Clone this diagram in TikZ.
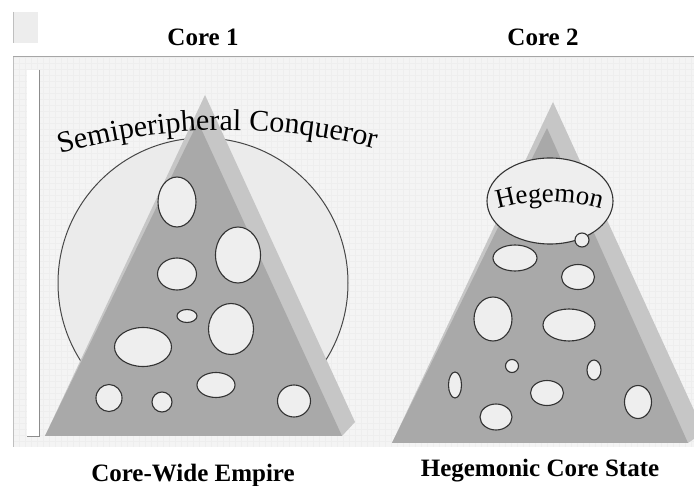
\documentclass[tikz,border=0pt]{standalone}
\usepackage{fontspec}
\setmainfont{Liberation Serif}
\usetikzlibrary{decorations.text}
\definecolor{panelbg}{HTML}{F4F4F4}
\definecolor{gridc}{HTML}{EEEEEE}
\definecolor{frontc}{HTML}{A9A9A9}
\definecolor{sidec}{HTML}{C6C6C6}
\definecolor{circc}{HTML}{EBEBEB}
\definecolor{holec}{HTML}{EEEEEE}
\definecolor{edgec}{HTML}{333333}
\definecolor{boxc}{HTML}{EDEDED}
\begin{document}
\begin{tikzpicture}[x=1pt,y=-1pt,
  hole/.style={draw=edgec, line width=1.1pt, fill=holec},
  labelbold/.style={font=\fontsize{25}{30}\selectfont\bfseries, inner sep=0pt, anchor=base},
  faintline/.style={draw=black!25, line width=0.8pt}]
\useasboundingbox (0,0) rectangle (694,486);
\fill[white] (0,0) rectangle (694,486);
% small box top-left
\fill[boxc] (13,12) rectangle (38,43);
\draw[faintline] (13,12) -- (13,43);
% panel
\fill[panelbg] (13,57) rectangle (694,447);
\begin{scope}
\clip (13,57) rectangle (694,447);
\foreach \i in {0,...,114} \draw[gridc, line width=0.3pt] ({13+6*\i},57) -- ({13+6*\i},447);
\foreach \j in {0,...,65} \draw[gridc, line width=0.3pt] (13,{57+6*\j}) -- (694,{57+6*\j});
\end{scope}
\draw[draw=black!35, line width=1pt] (13,57) -- (694,57);
\draw[faintline] (13,57) -- (13,447);
\fill[white] (27,70) rectangle (39,436);
\draw[draw=black!45, line width=0.9pt] (39,70) -- (39,436) -- (27,436);
% Core 1: circle and pyramid
\draw[fill=circc, draw=edgec!90, line width=1pt] (203,283) circle [radius=145];
\fill[sidec] (205,95) -- (355,422) -- (342,436) -- (45,436) -- cycle;
\fill[frontc] (198,122) -- (342,436) -- (45,436) -- cycle;
\foreach \cx/\cy/\rx/\ry in {177/202/19/25, 238/255/22.5/28, 177/274/19.5/16, 187/316/10/6.5,
  231/329/22.5/25.5, 143/347/28.5/19.5, 109/398/13/13.5, 162/402/10/10, 216/385/19/12.5, 294/401/16.5/16}
  \draw[hole] (\cx,\cy) ellipse [x radius=\rx, y radius=\ry];
\path[decorate, decoration={text along path, text align=center,
  text={|\fontsize{30}{36}\selectfont|Semiperipheral Conqueror}}]
  (228,730) ++(253:600) arc [start angle=253, end angle=285, radius=600];
% Core 2: pyramid
\fill[sidec] (553,102) -- (704,432) -- (688,443) -- (392,443) -- cycle;
\fill[frontc] (547,128) -- (688,443) -- (392,443) -- cycle;
\foreach \cx/\cy/\rx/\ry in {515/258/22/13, 578/277/16.5/12.5, 493/319/19/22, 569/325/26/16,
  512/366/6.5/6.5, 594/370/7/10, 455/385/6.5/13, 547/393/16.5/12.5, 638/402/13.5/16.5, 496/417/16/13}
  \draw[hole] (\cx,\cy) ellipse [x radius=\rx, y radius=\ry];
\draw[hole] (550,201) ellipse [x radius=63, y radius=43];
\draw[hole] (582,240) circle [radius=7];
\path[decorate, decoration={text along path, text align=center,
  text={|\fontsize{27}{32}\selectfont|Hegemon}}]
  (549.5,392) ++(254:190) arc [start angle=254, end angle=286, radius=190];
% labels
\node[labelbold] (core1) at (203,46) {Core 1};
\node[labelbold] (core2) at (543,46) {Core 2};
\node[labelbold] (cwe) at (193,481) {Core-Wide Empire};
\node[labelbold] (hcs) at (540,476) {Hegemonic Core State};
\end{tikzpicture}
\end{document}
